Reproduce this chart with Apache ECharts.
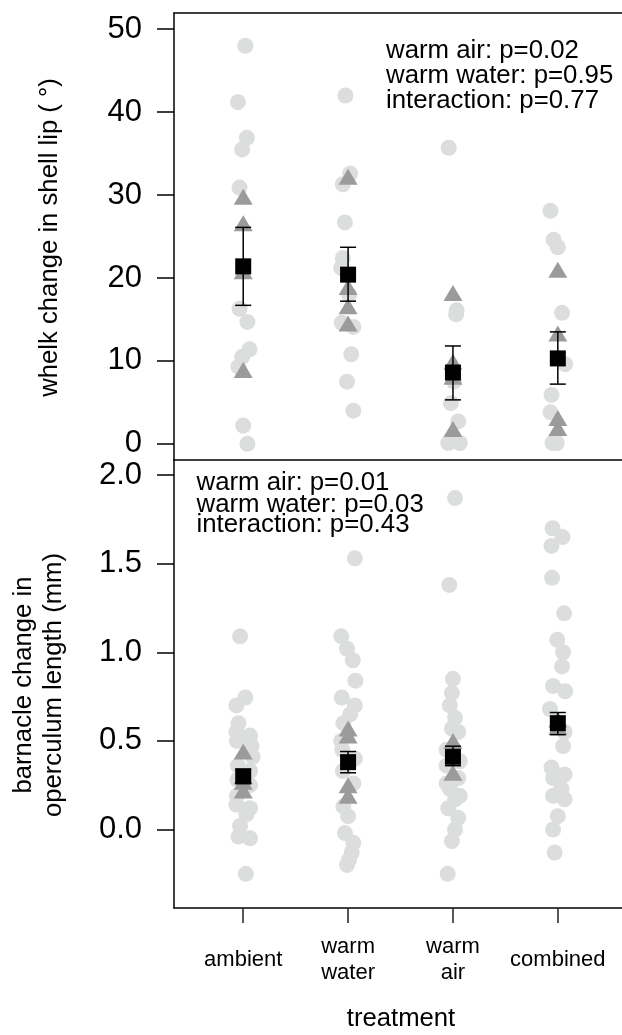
<!DOCTYPE html>
<html>
<head>
<meta charset="utf-8">
<title>whelk and barnacle change by treatment</title>
<script src="https://cdn.jsdelivr.net/npm/echarts@6.0.0/dist/echarts.min.js"></script>
<style>
  html, body { margin: 0; padding: 0; background: #fff; }
  #chart { width: 622px; height: 1035px; }
</style>
</head>
<body>
<div id="chart"></div>
<script>
// treatment groups (x axis)
const treatments = ['ambient', 'warm\nwater', 'warm\nair', 'combined'];
const whelkTicks = [0, 10, 20, 30, 40, 50];
const barnacleTicks = [0, 0.5, 1.0, 1.5, 2.0];

// whelk: individual snails (light circles), x jitter
const whelkIndiv = [
  [48.0, 41.2, 36.9, 35.5, 30.9, 16.3, 14.7, 11.4, 10.5, 9.3, 2.2, 0.0],
  [42.0, 32.6, 31.3, 26.7, 22.4, 21.2, 18.0, 14.6, 14.1, 10.8, 7.5, 4.0],
  [35.7, 16.1, 15.6, 7.5, 4.9, 2.7, 0.1, 0.1],
  [28.1, 24.6, 23.7, 15.8, 9.6, 5.9, 3.8, 0.1, 0.1]
];
const whelkJitter = [
  [0.02, -0.05, 0.035, -0.01, -0.035, -0.035, 0.04, 0.06, -0.01, -0.045, 0, 0.04],
  [-0.025, 0.02, -0.05, -0.03, -0.05, -0.065, 0.01, -0.06, 0.05, 0.03, -0.01, 0.05],
  [-0.04, 0.035, 0.03, 0.01, -0.02, 0.05, -0.045, 0.065],
  [-0.07, -0.04, 0, 0.04, 0.07, -0.06, -0.07, -0.05, -0.01]
];
// whelk: tank means (triangles)
const whelkTank = [
  [29.8, 26.6, 20.8, 8.9],
  [32.2, 18.9, 16.6, 14.5],
  [18.2, 9.9, 8.1, 1.8],
  [21.0, 13.3, 3.1, 1.9]
];
// whelk: treatment mean and error bar ends
const whelkMean = [21.4, 20.4, 8.6, 10.3];
const whelkLow = [16.7, 17.2, 5.3, 7.2];
const whelkHigh = [26.1, 23.7, 11.8, 13.5];

// barnacle: individuals
const barnIndiv = [
  [1.09, 0.745, 0.70, 0.60, 0.55, 0.53, 0.50, 0.47, 0.41, 0.36, 0.33, 0.28, 0.25, 0.19, 0.14, 0.12, 0.085, 0.02, -0.04, -0.05, -0.25],
  [1.53, 1.09, 1.02, 0.955, 0.84, 0.745, 0.70, 0.65, 0.60, 0.50, 0.45, 0.40, 0.33, 0.26, 0.13, 0.075, -0.02, -0.075, -0.13, -0.17, -0.20],
  [1.87, 1.38, 0.85, 0.77, 0.70, 0.63, 0.57, 0.55, 0.45, 0.385, 0.36, 0.29, 0.26, 0.23, 0.19, 0.17, 0.12, 0.066, 0.0, -0.066, -0.25],
  [1.70, 1.65, 1.60, 1.42, 1.22, 1.07, 1.00, 0.92, 0.81, 0.78, 0.68, 0.55, 0.47, 0.35, 0.31, 0.29, 0.23, 0.19, 0.17, 0.075, 0.0, -0.13]
];
const barnJitter = [
  [-0.03, 0.02, -0.065, -0.045, -0.065, 0.065, -0.06, 0.08, 0.09, -0.05, 0.065, -0.055, 0.065, -0.06, -0.065, 0.065, 0.03, -0.03, -0.045, 0.065, 0.025],
  [0.065, -0.065, -0.01, 0.045, 0.07, -0.06, 0.065, 0.02, -0.045, -0.065, -0.055, 0.065, -0.05, 0.05, -0.045, 0, -0.03, 0.05, 0.035, 0.01, -0.01],
  [0.02, -0.035, 0, -0.01, -0.03, 0.02, -0.01, 0.05, -0.06, 0.065, -0.06, 0.05, -0.06, -0.03, 0.065, 0.02, -0.045, 0.05, 0.02, -0.01, -0.05],
  [-0.05, 0.045, -0.06, -0.055, 0.06, -0.005, 0.05, 0.04, -0.045, 0.07, -0.075, 0.065, 0.05, -0.06, 0.065, -0.045, 0.035, -0.045, 0.065, 0, -0.045, -0.03]
];
const barnTank = [
  [0.44, 0.30, 0.27, 0.22],
  [0.57, 0.53, 0.25, 0.19],
  [0.50, 0.32],
  [0.62, 0.58]
];
const barnMean = [0.30, 0.38, 0.41, 0.60];
const barnLow = [0.26, 0.32, 0.36, 0.535];
const barnHigh = [0.34, 0.44, 0.47, 0.66];

const whelkStats = ['warm air: p=0.02', 'warm water: p=0.95', 'interaction: p=0.77'];
const barnStats = ['warm air: p=0.01', 'warm water: p=0.03', 'interaction: p=0.43'];

const FONT = '"Liberation Sans", Arial, Helvetica, sans-serif';
const circleColor = '#dcdddd';
const triColor = '#9b9b9b';
const frame = { color: '#000', width: 1.5 };

const myChart = echarts.init(document.getElementById('chart'), null, { renderer: 'canvas' });

function indivData(vals, jit) {
  let out = [];
  vals.forEach((arr, i) => arr.forEach((v, k) => out.push([i + 1 + jit[i][k], v])));
  return out;
}
function tankData(vals) {
  let out = [];
  vals.forEach((arr, i) => arr.forEach(v => out.push([i + 1, v])));
  return out;
}

// error bar: vertical line with short caps
function errorRender(params, api) {
  const x = api.value(0);
  const top = api.coord([x, api.value(2)]);
  const bot = api.coord([x, api.value(1)]);
  const w = 8;
  const st = { stroke: '#000', lineWidth: 1.5 };
  return {
    type: 'group',
    children: [
      { type: 'line', shape: { x1: top[0], y1: top[1], x2: bot[0], y2: bot[1] }, style: st },
      { type: 'line', shape: { x1: top[0] - w, y1: top[1], x2: top[0] + w, y2: top[1] }, style: st },
      { type: 'line', shape: { x1: bot[0] - w, y1: bot[1], x2: bot[0] + w, y2: bot[1] }, style: st }
    ]
  };
}

function panelSeries(idx, indiv, jit, tank, mean, low, high) {
  return [
    {
      type: 'scatter', xAxisIndex: idx, yAxisIndex: idx, z: 1,
      symbol: 'circle', symbolSize: 16,
      itemStyle: { color: circleColor, opacity: 1 },
      data: indivData(indiv, jit)
    },
    {
      type: 'scatter', xAxisIndex: idx, yAxisIndex: idx, z: 2,
      symbol: 'triangle', symbolSize: [19, 16],
      itemStyle: { color: triColor, opacity: 1 },
      data: tankData(tank)
    },
    {
      type: 'custom', xAxisIndex: idx, yAxisIndex: idx, z: 3,
      renderItem: errorRender,
      encode: { x: 0, y: [1, 2] },
      data: mean.map((m, i) => [i + 1, low[i], high[i]])
    },
    {
      type: 'scatter', xAxisIndex: idx, yAxisIndex: idx, z: 4,
      symbol: 'rect', symbolSize: 16,
      itemStyle: { color: '#000', opacity: 1 },
      data: mean.map((m, i) => [i + 1, m])
    }
  ];
}

const X_MIN = 0.34, X_MAX = 4.612;

// plain frame line only (no ticks, no labels)
function frameX(gridIndex, position) {
  return {
    type: 'value', gridIndex: gridIndex, min: X_MIN, max: X_MAX, position: position,
    axisLine: { show: true, onZero: false, lineStyle: frame },
    axisTick: { show: false }, axisLabel: { show: false }, splitLine: { show: false }
  };
}

const yAxisBase = {
  type: 'value',
  axisLine: { show: true, onZero: false, lineStyle: frame },
  splitLine: { show: false },
  axisTick: { show: true, length: 17, lineStyle: frame },
  axisLabel: { show: true, margin: 32, fontSize: 31, color: '#000', fontFamily: FONT }
};

function textLines(lines, x, ys) {
  return lines.map((t, i) => ({
    type: 'text', x: x, y: ys[i],
    style: { text: t, font: '25.8px ' + FONT, fill: '#000', textAlign: 'left', textVerticalAlign: 'middle' }
  }));
}

let option = {
  animation: false,
  grid: [
    { left: 174, top: 13, width: 448, height: 447, show: false },
    { left: 174, top: 460, width: 448, height: 448, show: false }
  ],
  xAxis: [
    frameX(0, 'top'),
    {
      type: 'value', gridIndex: 1, min: X_MIN, max: X_MAX, position: 'bottom',
      axisLine: { show: true, onZero: false, lineStyle: frame },
      splitLine: { show: false },
      axisTick: { show: true, customValues: [1, 2, 3, 4], length: 15, lineStyle: { color: '#222', width: 1.5 } },
      axisLabel: {
        show: true, customValues: [1, 2, 3, 4], margin: 52, verticalAlign: 'middle',
        fontSize: 22, lineHeight: 26.7, color: '#000', fontFamily: FONT,
        formatter: v => treatments[Math.round(v) - 1]
      }
    },
    frameX(1, 'top')
  ],
  yAxis: [
    Object.assign({}, yAxisBase, {
      gridIndex: 0, min: -1.95, max: 51.95,
      axisTick: Object.assign({}, yAxisBase.axisTick, { customValues: whelkTicks }),
      axisLabel: Object.assign({}, yAxisBase.axisLabel, { customValues: whelkTicks, formatter: v => String(v) })
    }),
    Object.assign({}, yAxisBase, {
      gridIndex: 1, min: -0.443, max: 2.085,
      axisTick: Object.assign({}, yAxisBase.axisTick, { customValues: barnacleTicks }),
      axisLabel: Object.assign({}, yAxisBase.axisLabel, { customValues: barnacleTicks, formatter: v => v.toFixed(1) })
    })
  ],
  graphic: [
    {
      type: 'text', x: 50.4, y: 237.5, rotation: Math.PI / 2,
      style: { text: 'whelk change in shell lip ( °)', font: '25.7px ' + FONT, fill: '#000', textAlign: 'center', textVerticalAlign: 'middle' }
    },
    {
      type: 'text', x: 24, y: 685, rotation: Math.PI / 2,
      style: { text: 'barnacle change in', font: '25.7px ' + FONT, fill: '#000', textAlign: 'center', textVerticalAlign: 'middle' }
    },
    {
      type: 'text', x: 54, y: 685, rotation: Math.PI / 2,
      style: { text: 'operculum length (mm)', font: '25.7px ' + FONT, fill: '#000', textAlign: 'center', textVerticalAlign: 'middle' }
    },
    {
      type: 'text', x: 401, y: 1019.4,
      style: { text: 'treatment', font: '25.7px ' + FONT, fill: '#000', textAlign: 'center', textVerticalAlign: 'middle' }
    }
  ].concat(textLines(whelkStats, 386, [51.1, 76.1, 101.1]))
   .concat(textLines(barnStats, 196.5, [482.8, 504.4, 525.1])),
  series: [].concat(
    panelSeries(0, whelkIndiv, whelkJitter, whelkTank, whelkMean, whelkLow, whelkHigh),
    panelSeries(1, barnIndiv, barnJitter, barnTank, barnMean, barnLow, barnHigh)
  )
};

option && myChart.setOption(option);
window.addEventListener('resize', () => {
  myChart.resize();
});
</script>
</body>
</html>
